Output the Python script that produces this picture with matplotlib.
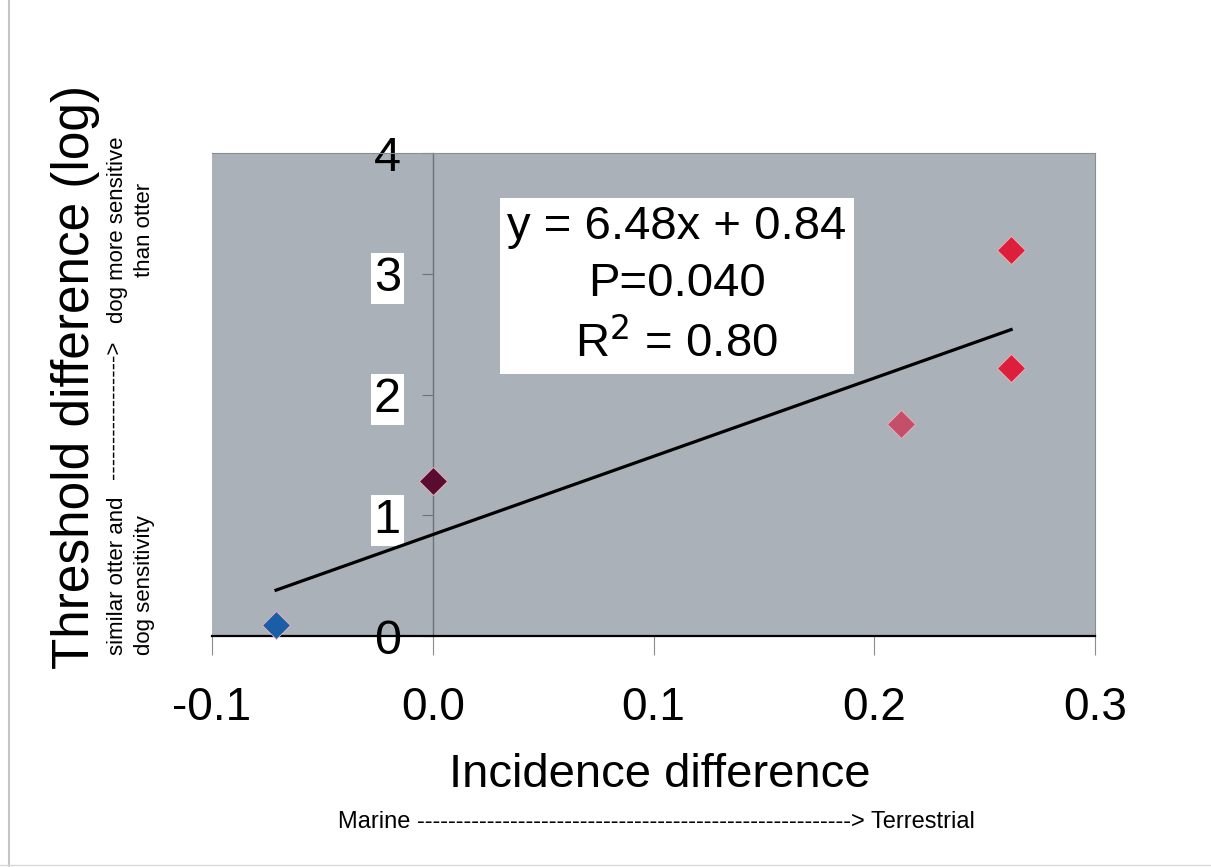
import matplotlib.pyplot as plt
from matplotlib.lines import Line2D

# incidence difference vs threshold difference (log)
incidence = [-0.071, 0.0, 0.212, 0.262, 0.262]
threshold = [0.09, 1.28, 1.76, 3.20, 2.22]
colors = ["#1a5fa6", "#5a0b30", "#c44f68", "#de1f3c", "#de1f3c"]

slope = 6.48
intercept = 0.84

x_ticks = [-0.1, 0.0, 0.1, 0.2, 0.3]
x_labels = ["-0.1", "0.0", "0.1", "0.2", "0.3"]
y_ticks = [0, 1, 2, 3, 4]

FONT = "Liberation Sans"
NARROW = ["Liberation Sans Narrow", "Liberation Sans"]


def main():
    plt.rcParams["font.family"] = FONT
    fig = plt.figure(figsize=(12.11, 8.67), dpi=100)
    ax = fig.add_axes([0.1751, 0.2664, 0.7291, 0.5571])
    ax.set_facecolor("#aab1b8")

    ax.set_xlim(-0.1, 0.3)
    ax.set_ylim(0, 4)

    # trend line over the data range
    x0, x1 = min(incidence), max(incidence)
    ax.plot([x0, x1], [slope * x0 + intercept, slope * x1 + intercept],
            color="black", lw=2.3, zorder=3)

    for x, y, c in zip(incidence, threshold, colors):
        ax.plot(x, y, marker="D", ms=14, color=c, mec="#f0b0b8", mew=0.6,
                zorder=4, clip_on=False)

    # y axis crossing at x = 0
    ax.spines["left"].set_position(("data", 0))
    ax.spines["left"].set_color("#6e7278")
    ax.spines["left"].set_linewidth(1.0)
    for side in ("top", "right"):
        ax.spines[side].set_color("#8a8e92")
        ax.spines[side].set_linewidth(0.8)
    ax.spines["bottom"].set_color("black")
    ax.spines["bottom"].set_linewidth(1.6)

    ax.set_yticks(y_ticks)
    ax.set_yticklabels([str(v) for v in y_ticks])
    ax.tick_params(axis="y", direction="out", length=8, width=0.8,
                   color="#6e7278", labelsize=35, pad=15)
    for lbl in ax.get_yticklabels()[1:4]:
        lbl.set_bbox(dict(facecolor="white", edgecolor="none", pad=2))

    ax.set_xticks(x_ticks)
    ax.set_xticklabels(x_labels)
    ax.tick_params(axis="x", direction="out", length=14, width=0.8,
                   color="#8a8e92", labelsize=33, pad=22)

    # regression box
    ax.text(0.1106, 2.90, "y = 6.48x + 0.84\nP=0.040\nR$^2$ = 0.80",
            ha="center", va="center", fontsize=34, linespacing=1.38,
            bbox=dict(facecolor="white", edgecolor="none", pad=5), zorder=5)

    fig.text(0.545, 0.106, "Incidence difference", ha="center", va="center",
             fontsize=34)
    fig.text(0.542, 0.052,
             "Marine " + "-" * 56 + "> Terrestrial",
             ha="center", va="center", fontsize=17, family=NARROW)

    fig.text(0.062, 0.565, "Threshold difference (log)", rotation=90,
             ha="center", va="center", fontsize=37)
    fig.text(0.108, 0.244, "similar otter and\ndog sensitivity", rotation=90,
             ha="center", va="bottom", fontsize=16, family=NARROW,
             multialignment="left", linespacing=1.35)
    fig.text(0.0945, 0.447, "-" * 17 + ">", rotation=90,
             ha="center", va="bottom", fontsize=16, family=NARROW)
    fig.text(0.108, 0.627, "dog more sensitive\nthan otter", rotation=90,
             ha="center", va="bottom", fontsize=16, family=NARROW,
             multialignment="center", linespacing=1.35)

    # slide frame
    fig.add_artist(Line2D([0.0075, 0.0075], [0, 1], color="#c4c4c4", lw=1.5))
    fig.add_artist(Line2D([0, 1], [0.002, 0.002], color="#d8d8d8", lw=1.0))

    fig.savefig("out.png", dpi=100, facecolor="white")


if __name__ == "__main__":
    main()
